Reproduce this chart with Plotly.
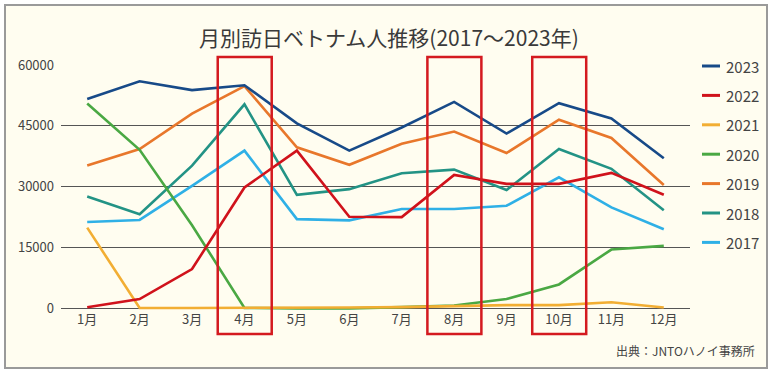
import plotly.graph_objects as go

months = ["1月", "2月", "3月", "4月", "5月", "6月", "7月", "8月", "9月", "10月", "11月", "12月"]
years = ["2023", "2022", "2021", "2020", "2019", "2018", "2017"]

v2023 = [51600, 56000, 53800, 55000, 45600, 38900, 44600, 50900, 43100, 50600, 46800, 37000]
v2022 = [300, 2300, 9700, 29800, 38900, 22600, 22500, 32900, 30700, 30700, 33400, 28000]
v2021 = [19900, 100, 100, 100, 200, 200, 300, 500, 800, 800, 1500, 200]
v2020 = [50500, 39100, 20500, 100, 0, 0, 300, 700, 2300, 5900, 14500, 15400]
v2019 = [35200, 39300, 48000, 54800, 39700, 35400, 40600, 43600, 38300, 46500, 42000, 30400]
v2018 = [27600, 23200, 35200, 50300, 28000, 29400, 33300, 34200, 29200, 39300, 34400, 24200]
v2017 = [21300, 21800, 30200, 38900, 22000, 21700, 24500, 24500, 25300, 32300, 24900, 19500]

series = {"2023": v2023, "2022": v2022, "2021": v2021, "2020": v2020,
          "2019": v2019, "2018": v2018, "2017": v2017}
colors = {"2023": "#174a88", "2022": "#d0121b", "2021": "#f2ae33", "2020": "#4aa843",
          "2019": "#e8772b", "2018": "#239385", "2017": "#2fb0e6"}

highlight = ["4月", "8月", "10月"]
yticks = [0, 15000, 30000, 45000, 60000]

font_main = "Noto Sans CJK JP, Noto Sans, sans-serif"

fig = go.Figure()
for yr in reversed(years):
    fig.add_trace(go.Scatter(x=months, y=series[yr], mode="lines", name=yr,
                             line=dict(color=colors[yr], width=2.6), showlegend=False))

L, R, T, B = 61, 83, 65, 63
W, H = 773, 373
pw, ph = W - L - R, H - T - B

def px_x(x):
    return (x - L) / pw

def px_y(y):
    return (H - B - y) / ph

shapes = []
# outer frame
shapes.append(dict(type="rect", xref="paper", yref="paper",
                   x0=px_x(5), x1=px_x(767), y0=px_y(368), y1=px_y(5),
                   line=dict(color="#9a9a9a", width=2), fillcolor="#fffdf0", layer="below"))
# highlight boxes
for m in highlight:
    i = months.index(m)
    shapes.append(dict(type="rect", xref="x", yref="paper",
                       x0=i - 0.51, x1=i + 0.52, y0=px_y(334), y1=px_y(57),
                       line=dict(color="#d41a1f", width=2.5), fillcolor="rgba(0,0,0,0)", layer="above"))

annotations = [
    dict(text="月別訪日ベトナム人推移(2017〜2023年)", xref="paper", yref="paper",
         x=px_x(389), y=px_y(37), xanchor="center", yanchor="middle", showarrow=False,
         font=dict(family=font_main, size=21, color="#3a3a3a")),
    dict(text="出典：JNTOハノイ事務所", xref="paper", yref="paper",
         x=px_x(757), y=px_y(350), xanchor="right", yanchor="middle", showarrow=False,
         font=dict(family=font_main, size=12, color="#444444")),
]

# manual legend
for k, yr in enumerate(years):
    yy = 66 + k * 29.4
    shapes.append(dict(type="line", xref="paper", yref="paper",
                       x0=px_x(702), x1=px_x(720), y0=px_y(yy), y1=px_y(yy),
                       line=dict(color=colors[yr], width=3)))
    annotations.append(dict(text=yr, xref="paper", yref="paper",
                            x=px_x(724), y=px_y(yy), xanchor="left", yanchor="middle",
                            showarrow=False,
                            font=dict(family=font_main, size=15, color="#444444")))

fig.update_layout(
    width=W, height=H,
    margin=dict(l=L, r=R, t=T, b=B),
    paper_bgcolor="white",
    plot_bgcolor="rgba(0,0,0,0)",
    shapes=shapes,
    annotations=annotations,
    showlegend=False,
    xaxis=dict(type="category", range=[-0.5, 11.5], showgrid=False, zeroline=False,
               showline=False, ticks="", tickfont=dict(family=font_main, size=13, color="#444444"),
               fixedrange=True),
    yaxis=dict(range=[-400, 60000], tickvals=yticks, ticktext=[str(v) for v in yticks],
               showgrid=True, gridcolor="#555555", gridwidth=1, zeroline=False,
               showline=False, ticks="", ticklabelstandoff=6,
               tickfont=dict(family=font_main, size=13, color="#444444"), fixedrange=True),
)
fig.write_html("out.html", config={"displayModeBar": False},
               post_script="document.body.style.margin='0';document.body.style.padding='0';")
